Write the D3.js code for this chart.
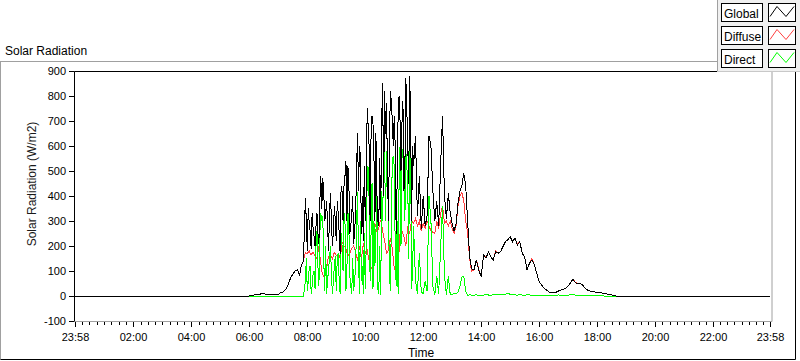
<!DOCTYPE html>
<html><head><meta charset="utf-8">
<script src="https://cdn.jsdelivr.net/npm/d3@7"></script>
<style>
html,body{margin:0;padding:0;background:#fff;}
svg{display:block;font-family:"Liberation Sans",Arial,sans-serif;}
</style></head><body>
<svg id="c" width="800" height="361"></svg>
<script>
// ---- data (minutes since 00:00) ----
const minutes = [0,360,370,380,385,390,395,400,410,420,425,430,435,440,445,450,455,
460,464,468,472,476,478,480,482,484,486,488,490,492,494,496,498,500,502,504,506,508,510,512,514,516,518,520,522,524,526,528,530,532,534,536,538,
540,542,544,546,548,550,552,554,556,558,560,562,564,566,568,570,572,574,576,578,
580,582,584,586,588,590,592,594,596,598,600,602,604,606,608,610,612,614,616,618,
620,622,624,626,628,630,632,634,636,638,640,642,644,646,648,650,652,654,656,658,
660,662,664,666,668,670,672,674,676,678,680,682,684,686,688,690,692,694,696,698,700,
704,708,712,716,720,724,728,732,736,740,744,748,752,756,760,764,768,772,776,780,784,788,792,796,800,804,808,812,816,820,
825,830,835,840,845,850,855,860,865,870,875,880,885,890,895,900,905,910,915,920,925,930,935,940,945,950,955,960,965,970,975,980,985,990,995,1000,1005,1010,1015,1020,1025,1030,1035,1040,1045,1050,1055,1060,1065,1070,1075,1080,1085,1090,1095,1100,1105,1110,1115,1120,
1438];

const globalRad = [0,0,4,5,10,11,6,5,5,6,15,16,25,45,70,88,100,
104,84,125,140,390,300,180,350,290,260,190,330,270,240,200,280,330,250,210,380,480,350,470,420,300,330,380,280,180,330,410,300,200,260,360,300,
220,380,330,250,170,440,420,300,440,480,
540,300,520,460,250,280,330,400,210,260,
330,500,650,420,600,560,250,400,220,520,
300,420,750,680,600,300,640,720,690,560,
300,650,420,300,280,550,310,700,850,400,
820,650,770,500,300,600,820,780,700,600,
720,600,250,450,720,800,700,500,690,780,
420,500,870,750,600,450,880,700,300,600,
520,
640,320,480,270,400,280,320,640,600,420,300,380,280,520,720,400,310,410,330,290,
260,290,370,420,440,490,440,300,160,110,
104,144,104,77,164,151,177,157,144,177,171,177,197,217,224,237,217,231,204,217,
171,157,104,131,144,124,91,57,44,31,24,17,13,13,15,20,24,27,31,40,
53,67,53,48,50,44,31,24,20,17,16,15,13,12,10,8,8,5,1,0,
0];

const diffuseRad = [0,0,4,5,10,11,6,5,5,6,15,16,25,45,70,88,100,
104,84,125,140,175,172,170,175,180,170,165,170,175,168,160,155,150,175,200,160,130,100,85,80,80,95,110,140,160,160,165,158,150,160,175,170,
160,165,170,160,150,180,215,210,200,195,
190,175,160,165,170,180,190,195,200,190,
175,160,140,170,200,175,150,180,210,190,
170,180,185,160,140,120,110,115,125,200,
290,280,260,265,270,290,305,285,260,240,
220,200,170,175,185,210,230,210,190,150,
110,105,100,100,105,180,250,255,260,250,
240,220,200,240,280,265,250,280,300,295,
290,
310,280,300,260,290,270,300,280,260,255,250,300,270,330,360,290,300,280,300,270,
250,280,360,400,415,380,300,250,150,100,
104,144,108,77,164,155,177,157,144,182,171,177,197,217,224,237,217,231,208,217,
171,157,104,131,150,124,91,57,44,31,24,17,13,13,15,20,24,27,31,40,
53,67,55,48,50,44,31,24,20,17,16,15,13,12,10,8,8,5,1,0,
0];

const directRad = [0,0,0,0,0,0,0,0,0,0,0,0,0,0,0,0,0,
0,0,0,0,60,150,20,60,110,120,10,40,90,100,30,200,260,120,40,250,330,300,320,150,20,200,10,60,110,150,200,80,10,60,120,160,
20,150,170,60,10,250,200,100,330,300,
20,100,340,280,80,40,10,150,20,60,
120,280,415,150,10,300,60,120,10,250,
30,200,520,400,530,60,250,450,30,300,
120,250,400,30,10,200,5,420,300,550,
580,300,580,500,350,100,20,300,550,560,
520,200,40,300,10,450,600,200,590,560,
470,300,580,520,450,150,600,560,30,100,
280,
60,10,170,15,10,60,20,400,300,40,5,80,10,190,360,80,5,80,5,5,
10,8,15,40,75,80,20,2,5,3,
3,5,2,4,3,6,4,3,5,4,6,5,8,6,12,6,4,5,3,6,
4,3,5,4,3,2,3,2,2,3,2,3,2,2,3,4,3,3,4,3,
5,8,4,3,2,2,3,2,2,1,2,1,1,1,0,0,0,0,0,0,
0];

const yTicks = [-100,0,100,200,300,400,500,600,700,800,900];
const xTickMinutes = [-2,120,240,360,480,600,720,840,960,1080,1200,1320,1438];
const xTickLabels = ["23:58","02:00","04:00","06:00","08:00","10:00","12:00","14:00","16:00","18:00","20:00","22:00","23:58"];
const seriesNames = ["Global","Diffuse","Direct"];
const seriesColors = ["#000000","#ff4040","#00ff00"];

// ---- drawing ----
const svg = d3.select("#c");
const L = 74.5, R = 772, T = 71.5, B = 321;
const x = d3.scaleLinear().domain([-2,1438]).range([74.5,770]);
const y = d3.scaleLinear().domain([-100,900]).range([321,71]);

// outer panel frame
svg.append("line").attr("x1",0).attr("x2",800).attr("y1",61.5).attr("y2",61.5).attr("stroke","#a0a0a0");
svg.append("line").attr("x1",0.5).attr("x2",0.5).attr("y1",61.5).attr("y2",359.5).attr("stroke","#a0a0a0");
svg.append("line").attr("x1",0.5).attr("x2",795.5).attr("y1",359.5).attr("y2",359.5).attr("stroke","#000");
svg.append("line").attr("x1",795.5).attr("x2",795.5).attr("y1",61.5).attr("y2",359.5).attr("stroke","#000");

svg.append("text").attr("x",5).attr("y",55).attr("font-size",12).attr("fill","#000").text("Solar Radiation");

// plot area
svg.append("rect").attr("x",L).attr("y",T).attr("width",R-L).attr("height",B-T).attr("fill","#fff");

svg.append("clipPath").attr("id","pc").append("rect")
  .attr("x",L).attr("y",T).attr("width",R-L).attr("height",B-T);

const g = svg.append("g").attr("clip-path","url(#pc)");
const order = [1,2,0];
const seriesData = [globalRad, diffuseRad, directRad];
order.forEach(i => {
  const line = d3.line().x((d,k)=>x(minutes[k])).y(d=>y(d));
  g.append("path").datum(seriesData[i]).attr("d",line)
    .attr("fill","none").attr("stroke",seriesColors[i]).attr("stroke-width",1)
    .attr("shape-rendering","crispEdges");
});

// plot borders
svg.append("line").attr("x1",L).attr("x2",R).attr("y1",T).attr("y2",T).attr("stroke","#000");
svg.append("line").attr("x1",L).attr("x2",L).attr("y1",T).attr("y2",B).attr("stroke","#000");
svg.append("line").attr("x1",L).attr("x2",R).attr("y1",B+0.5).attr("y2",B+0.5).attr("stroke","#a0a0a0");
svg.append("line").attr("x1",R).attr("x2",R).attr("y1",T).attr("y2",B+0.5).attr("stroke","#a0a0a0");

// y axis
const yAxis = svg.append("g");
yTicks.forEach(v => {
  const yy = Math.round(y(v)) + 0.5;
  yAxis.append("line").attr("x1",69).attr("x2",L).attr("y1",yy).attr("y2",yy).attr("stroke","#000");
  yAxis.append("text").attr("x",66).attr("y",yy).attr("dy","0.35em").attr("text-anchor","end")
    .attr("font-size",11).attr("fill","#000").text(v);
});
svg.append("text").attr("transform","translate(36,184) rotate(-90)").attr("text-anchor","middle")
  .attr("font-size",12).attr("fill","#1a1a1a").text("Solar Radiation (W/m2)");

// x axis
const xAxis = svg.append("g");
for (let k=0;k<xTickMinutes.length;k++){
  const xx = Math.round(x(xTickMinutes[k]))+0.5;
  xAxis.append("line").attr("x1",xx).attr("x2",xx).attr("y1",322).attr("y2",327).attr("stroke","#000");
  xAxis.append("text").attr("x",xx).attr("y",341).attr("text-anchor","middle")
    .attr("font-size",11).attr("fill","#000").text(xTickLabels[k]);
  if (k < xTickMinutes.length-1){
    const a = xTickMinutes[k], b = xTickMinutes[k+1];
    for (let j=1;j<8;j++){
      const xm = Math.round(x(a + (b-a)*j/8))+0.5;
      xAxis.append("line").attr("x1",xm).attr("x2",xm).attr("y1",322).attr("y2",325).attr("stroke","#000");
    }
  }
}
svg.append("text").attr("x",421).attr("y",357).attr("text-anchor","middle")
  .attr("font-size",12).attr("fill","#000").text("Time");

// legend
const lg = svg.append("g");
lg.append("rect").attr("x",717).attr("y",0).attr("width",83).attr("height",72).attr("fill","#f0f0f0");
lg.append("line").attr("x1",717.5).attr("x2",717.5).attr("y1",0).attr("y2",72).attr("stroke","#a0a0a0");
lg.append("line").attr("x1",717).attr("x2",800).attr("y1",71.5).attr("y2",71.5).attr("stroke","#c8c8c8");
seriesNames.forEach((n,i) => {
  const top = 3.5 + i*23;
  lg.append("rect").attr("x",721.5).attr("y",top).attr("width",41).attr("height",18)
    .attr("fill","#fff").attr("stroke","#000");
  lg.append("text").attr("x",724).attr("y",top+14).attr("font-size",12).attr("fill","#000").text(n);
  lg.append("rect").attr("x",768.5).attr("y",top).attr("width",27).attr("height",18)
    .attr("fill","#fff").attr("stroke","#000");
  lg.append("path").attr("d",`M770,${top+13} L777,${top+3} L786,${top+13} L794,${top+3}`)
    .attr("fill","none").attr("stroke",seriesColors[i]).attr("stroke-width",1);
});
</script>
</body></html>
